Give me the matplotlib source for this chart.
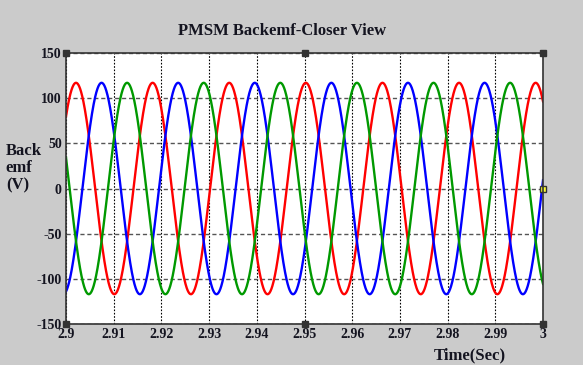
import numpy as np
import matplotlib.pyplot as plt

# three-phase back-emf
amplitude = 117.0          # V
period = 0.01606           # s
red_peak = 2.9021          # time of first phase-A peak (s)
phase_names = ['A', 'B', 'C']
phase_colors = ['#ff0000', '#0000ff', '#009900']
phase_lag = [0.0, 1.0 / 3.0, 2.0 / 3.0]   # fraction of a period

x_ticks = [2.9, 2.91, 2.92, 2.93, 2.94, 2.95, 2.96, 2.97, 2.98, 2.99, 3.0]
x_labels = ['2.9', '2.91', '2.92', '2.93', '2.94', '2.95', '2.96', '2.97', '2.98', '2.99', '3']
y_ticks = [-150, -100, -50, 0, 50, 100, 150]

t = np.linspace(2.9, 3.0, 2000)

plt.rcParams['font.family'] = ['Liberation Serif', 'DejaVu Serif']
plt.rcParams['axes.unicode_minus'] = False
txt_col = '#141420'
fig = plt.figure(figsize=(5.83, 3.65), dpi=100, facecolor='#cbcbcb')
ax = fig.add_axes([0.1132, 0.1123, 0.8182, 0.7425])
ax.set_facecolor('white')

for name, c, lag in zip(phase_names, phase_colors, phase_lag):
    e = amplitude * np.cos(2 * np.pi * (t - red_peak - lag * period) / period)
    ax.plot(t, e, color=c, lw=1.7, label=name)

ax.set_xlim(2.9, 3.0)
ax.set_ylim(-150, 150)
ax.set_xticks(x_ticks)
ax.set_xticklabels(x_labels)
ax.set_yticks(y_ticks)
ax.tick_params(length=0, pad=3, labelsize=10, labelcolor=txt_col)
for lbl in ax.get_xticklabels() + ax.get_yticklabels():
    lbl.set_fontweight('bold')
# vertical grid fine dotted black, horizontal grid grey dashes
ax.grid(True, axis='x', color='black', ls=(0, (1.5, 1.5)), lw=0.8)
ax.grid(True, axis='y', color='#555555', ls=(0, (3, 2)), lw=1.0)
for s in ax.spines.values():
    s.set_color('#333333')
    s.set_linewidth(1.2)

# scope edit handles
hx = [0, 0.5, 1, 0, 0.5, 1]
hy = [1, 1, 1, 0, 0, 0]
ax.plot(hx, hy, 's', ms=4, color='#333333', transform=ax.transAxes, clip_on=False)
ax.plot([1], [0.5], 's', ms=4, mfc='#ffff33', mec='#333333', transform=ax.transAxes, clip_on=False)

fig.text(0.484, 0.915, 'PMSM Backemf-Closer View', ha='center', va='center',
         fontsize=12, fontweight='bold', color=txt_col)
fig.text(0.010, 0.54, 'Back\nemf\n(V)', ha='left', va='center',
         fontsize=12, fontweight='bold', linespacing=1.1, color=txt_col)
fig.text(0.805, 0.025, 'Time(Sec)', ha='center', va='center',
         fontsize=12, fontweight='bold', color=txt_col)

fig.savefig('out.png', dpi=100, facecolor=fig.get_facecolor())
